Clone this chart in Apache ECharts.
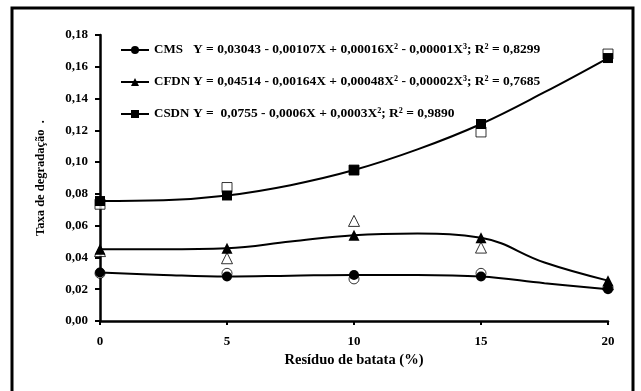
<!DOCTYPE html>
<html>
<head>
<meta charset="utf-8">
<script src="https://cdn.jsdelivr.net/npm/echarts@6/dist/echarts.min.js"></script>
<style>html,body{margin:0;padding:0;background:#fff;}#c{width:641px;height:391px;}</style>
</head>
<body>
<div id="c"></div>
<script>
const curveX = [0, 2.5, 5, 7.5, 10, 12.5, 15, 17.5, 20];
// fitted curves
const cmsCurve  = [0.0305, 0.0290, 0.0280, 0.0285, 0.0290, 0.0290, 0.0280, 0.0238, 0.0200];
const cfdnCurve = [0.0452, 0.0452, 0.0458, 0.0500, 0.0540, 0.0550, 0.0524, 0.0368, 0.0254];
const csdnCurve = [0.0755, 0.0760, 0.0790, 0.0855, 0.0950, 0.1080, 0.1240, 0.1440, 0.1655];
// observed values (open markers)
const obsX = [0, 5, 10, 15, 20];
const cmsObs  = [0.0300, 0.0300, 0.0265, 0.0300, 0.0210];
const cfdnObs = [0.0440, 0.0395, 0.0630, 0.0462, 0.0230];
const csdnObs = [0.0735, 0.0840, 0.0950, 0.1190, 0.1680];
// labels
const seriesNames = ['CMS', 'CFDN', 'CSDN'];
const equations = [
  'Y = 0,03043 - 0,00107X + 0,00016X\u00b2 - 0,00001X\u00b3; R\u00b2 = 0,8299',
  'Y = 0,04514 - 0,00164X + 0,00048X\u00b2 - 0,00002X\u00b3; R\u00b2 = 0,7685',
  'Y =  0,0755 - 0,0006X + 0,0003X\u00b2; R\u00b2 = 0,9890'
];
const yTickLabels = ['0,00','0,02','0,04','0,06','0,08','0,10','0,12','0,14','0,16','0,18'];
const xTickLabels = ['0','5','10','15','20'];
const yTitle = 'Taxa de degradação  .';
const xTitle = 'Resíduo de batata (%)';

const FONT = '"Liberation Serif", "Times New Roman", serif';
const symbols = ['circle', 'triangle', 'rect'];
const symSizes = [10, 11, 10];
const curves = [cmsCurve, cfdnCurve, csdnCurve];
const obs = [cmsObs, cfdnObs, csdnObs];

const series = [];
obs.forEach((o, i) => {
  series.push({
    name: seriesNames[i] + ' obs',
    type: 'scatter',
    symbol: symbols[i],
    symbolSize: symSizes[i],
    itemStyle: { color: '#fff', borderColor: '#000', borderWidth: 1 },
    z: 2,
    data: obsX.map((x, k) => [x, o[k]])
  });
});
curves.forEach((c, i) => {
  series.push({
    name: seriesNames[i],
    type: 'line',
    smooth: 0.4,
    symbol: symbols[i],
    symbolSize: symSizes[i],
    showSymbol: true,
    lineStyle: { color: '#000', width: 2 },
    itemStyle: { color: '#000' },
    z: 3,
    data: curveX.map((x, k) => (x % 5 === 0)
      ? { value: [x, c[k]] }
      : { value: [x, c[k]], symbol: 'none' })
  });
});

const chart = echarts.init(document.getElementById('c'));
chart.setOption({
  animation: false,
  backgroundColor: '#fff',
  grid: { left: 100, right: 33, top: 35, bottom: 70 },
  graphic: [{
    type: 'rect', shape: { x: 12, y: 8, width: 621, height: 400 },
    style: { fill: 'none', stroke: '#000', lineWidth: 3 }, silent: true
  }],
  legend: {
    orient: 'vertical', left: 115, top: 38, itemGap: 18,
    itemWidth: 28, itemHeight: 10,
    data: seriesNames,
    formatter: name => {
      const i = seriesNames.indexOf(name);
      return '{n|' + name + '}{e|' + equations[i] + '}';
    },
    textStyle: {
      color: '#000', fontFamily: FONT, fontWeight: 'bold', fontSize: 13.5,
      rich: {
        n: { fontFamily: FONT, fontWeight: 'bold', fontSize: 13, width: 39, align: 'left', color: '#000' },
        e: { fontFamily: FONT, fontWeight: 'bold', fontSize: 13.5, color: '#000' }
      }
    }
  },
  xAxis: {
    type: 'value', min: 0, max: 20, interval: 5,
    name: xTitle, nameLocation: 'middle', nameGap: 31,
    nameTextStyle: { fontFamily: FONT, fontWeight: 'bold', fontSize: 14.5, color: '#000' },
    axisLine: { lineStyle: { color: '#000', width: 2.5 } },
    axisTick: { show: true, length: 4, lineStyle: { color: '#000', width: 2 } },
    axisLabel: {
      fontFamily: FONT, fontWeight: 'bold', fontSize: 13, color: '#000', margin: 14,
      formatter: (v) => xTickLabels[Math.round(v / 5)]
    },
    splitLine: { show: false }
  },
  yAxis: {
    type: 'value', min: 0, max: 0.18, interval: 0.02,
    name: yTitle, nameLocation: 'middle', nameGap: 53, nameRotate: 90,
    nameTextStyle: { fontFamily: FONT, fontWeight: 'bold', fontSize: 12.5, color: '#000' },
    axisLine: { show: true, lineStyle: { color: '#000', width: 2.5 } },
    axisTick: { show: true, length: 5, lineStyle: { color: '#000', width: 2 } },
    axisLabel: {
      fontFamily: FONT, fontWeight: 'bold', fontSize: 13, color: '#000', margin: 12,
      formatter: (v) => yTickLabels[Math.round(v / 0.02)]
    },
    splitLine: { show: false }
  },
  series: series
});
</script>
</body>
</html>
